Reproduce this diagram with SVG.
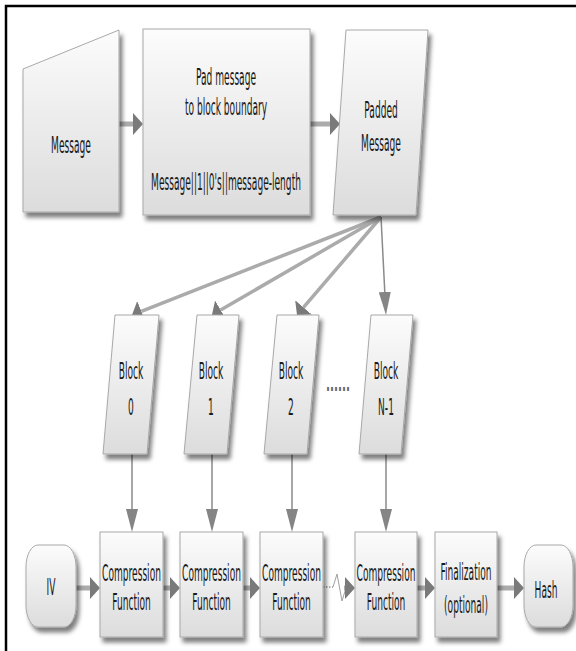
<svg xmlns="http://www.w3.org/2000/svg" width="576" height="651" viewBox="0 0 576 651">
<defs>
<linearGradient id="g" x1="0" y1="0" x2="0" y2="1">
<stop offset="0" stop-color="#fcfcfc"/>
<stop offset="1" stop-color="#dcdcdc"/>
</linearGradient>
<filter id="sh" x="-20%" y="-20%" width="150%" height="150%">
<feDropShadow dx="3" dy="5" stdDeviation="2.2" flood-color="#000" flood-opacity="0.5"/>
</filter>
<marker id="wide" markerUnits="userSpaceOnUse" viewBox="0 0 10 22" refX="0" refY="11" markerWidth="10" markerHeight="22" orient="auto">
<path d="M0,0 L10,11 L0,22 z" fill="#7a7a7a"/>
</marker>
<marker id="narrow" markerUnits="userSpaceOnUse" viewBox="0 0 23 12" refX="0" refY="6" markerWidth="23" markerHeight="12" orient="auto">
<path d="M0,0 L23,6 L0,12 z" fill="#858585"/>
</marker>
<style>
.n{fill:url(#g);stroke:#a8a8a8;stroke-width:1;filter:url(#sh)}
.t{font-family:"DejaVu Sans",Verdana,sans-serif;font-size:23px;fill:#1a1a1a;text-anchor:middle}
.thick{stroke:#ababab;stroke-width:5;fill:none;marker-end:url(#wide)}
.fan{stroke:#ababab;stroke-width:3.5;fill:none;marker-end:url(#wide)}
.thin{stroke:#8a8a8a;stroke-width:1.5;fill:none;marker-end:url(#narrow)}
</style>
</defs>
<rect width="576" height="651" fill="#fff"/>
<path d="M6,651 L6,6 L576,6" fill="none" stroke="#000" stroke-width="2.5"/>

<g id="connectors">
<line class="thick" x1="119" y1="124" x2="133" y2="124"/>
<line class="thick" x1="310" y1="124" x2="330" y2="124"/>
<line class="fan" x1="381" y1="217" x2="141.3" y2="311.3"/>
<line class="fan" x1="381" y1="217" x2="220.6" y2="310"/>
<line class="fan" x1="381" y1="217" x2="303.5" y2="307.4"/>
<line class="thin" x1="381" y1="217" x2="384.8" y2="292"/>
<line class="thin" x1="132" y1="454" x2="132" y2="509"/>
<line class="thin" x1="212" y1="454" x2="212" y2="509"/>
<line class="thin" x1="292" y1="454" x2="292" y2="509"/>
<line class="thin" x1="386" y1="454" x2="386" y2="509"/>
<line class="thick" x1="76" y1="588" x2="90" y2="588"/>
<line class="thick" x1="163" y1="588" x2="170" y2="588"/>
<line class="thick" x1="243" y1="588" x2="250" y2="588"/>
<line x1="323" y1="587" x2="333" y2="587" stroke="#b5b5b5" stroke-width="2" stroke-dasharray="1.5 1.5"/>
<polyline points="333,587 337,574 342,601 346,588" fill="none" stroke="#a0a0a0" stroke-width="1"/>
<line class="thick" x1="344" y1="588" x2="345" y2="588"/>
<line class="thick" x1="417" y1="588" x2="425" y2="588"/>
<line class="thick" x1="497" y1="588" x2="514" y2="588"/>
</g>

<g id="message">
<polygon class="n" points="23,69 119,30 119,212 23,212"/>
<text class="t" x="71" y="153.4" transform="matrix(0.395 0 0 1 42.955 0)">Message</text>
</g>
<g id="pad">
<rect class="n" x="143" y="29" width="167" height="186"/>
<text class="t" x="226" y="85.4" transform="matrix(0.395 0 0 1 136.73 0)">Pad message</text>
<text class="t" x="226" y="115.4" transform="matrix(0.395 0 0 1 136.73 0)">to block boundary</text>
<text class="t" x="226" y="190.4" transform="matrix(0.395 0 0 1 136.73 0)">Message||1||0's||message-length</text>
</g>
<g id="padded">
<polygon class="n" points="346,30 428,30 416,215 333,215"/>
<text class="t" x="381" y="118.4" transform="matrix(0.395 0 0 1 230.505 0)">Padded</text>
<text class="t" x="381" y="151.4" transform="matrix(0.395 0 0 1 230.505 0)">Message</text>
</g>
<g id="block0">
<polygon class="n" points="115,315 159,315 147,454 103,454"/>
<text class="t" x="131" y="379.4" transform="matrix(0.395 0 0 1 79.255 0)">Block</text>
<text class="t" x="131" y="415.4" transform="matrix(0.395 0 0 1 79.255 0)">0</text>
</g>
<g id="block1">
<polygon class="n" points="197,315 239,315 227,454 184,454"/>
<text class="t" x="211" y="379.4" transform="matrix(0.395 0 0 1 127.655 0)">Block</text>
<text class="t" x="211" y="415.4" transform="matrix(0.395 0 0 1 127.655 0)">1</text>
</g>
<g id="block2">
<polygon class="n" points="277,315 319,315 307,454 264,454"/>
<text class="t" x="291" y="379.4" transform="matrix(0.395 0 0 1 176.055 0)">Block</text>
<text class="t" x="291" y="415.4" transform="matrix(0.395 0 0 1 176.055 0)">2</text>
</g>
<g id="dots">
<text class="t" x="338" y="391" transform="matrix(0.5 0 0 1 169 0)" style="font-weight:bold;fill:#666;font-size:21px">......</text>
</g>
<g id="blockN">
<polygon class="n" points="371,315 413,315 401,454 359,454"/>
<text class="t" x="386" y="379.4" transform="matrix(0.395 0 0 1 233.53 0)">Block</text>
<text class="t" x="386" y="415.4" transform="matrix(0.395 0 0 1 233.53 0)">N-1</text>
</g>
<g id="iv">
<rect class="n" x="26" y="545" width="50" height="82" rx="12" ry="22"/>
<text class="t" x="51" y="595.4" transform="matrix(0.395 0 0 1 30.855 0)">IV</text>
</g>
<g id="comp1">
<rect class="n" x="100" y="532" width="63" height="105"/>
<text class="t" x="131.5" y="581.4" transform="matrix(0.395 0 0 1 79.5575 0)">Compression</text>
<text class="t" x="131.5" y="610.4" transform="matrix(0.395 0 0 1 79.5575 0)">Function</text>
</g>
<g id="comp2">
<rect class="n" x="180" y="532" width="63" height="105"/>
<text class="t" x="211.5" y="581.4" transform="matrix(0.395 0 0 1 127.9575 0)">Compression</text>
<text class="t" x="211.5" y="610.4" transform="matrix(0.395 0 0 1 127.9575 0)">Function</text>
</g>
<g id="comp3">
<rect class="n" x="260" y="532" width="63" height="105"/>
<text class="t" x="291.5" y="581.4" transform="matrix(0.395 0 0 1 176.3575 0)">Compression</text>
<text class="t" x="291.5" y="610.4" transform="matrix(0.395 0 0 1 176.3575 0)">Function</text>
</g>
<g id="comp4">
<rect class="n" x="355" y="532" width="62" height="105"/>
<text class="t" x="386" y="581.4" transform="matrix(0.395 0 0 1 233.53 0)">Compression</text>
<text class="t" x="386" y="610.4" transform="matrix(0.395 0 0 1 233.53 0)">Function</text>
</g>
<g id="final">
<rect class="n" x="435" y="532" width="62" height="105"/>
<text class="t" x="466" y="580.4" transform="matrix(0.395 0 0 1 281.93 0)">Finalization</text>
<text class="t" x="466" y="613.4" transform="matrix(0.395 0 0 1 281.93 0)">(optional)</text>
</g>
<g id="hash">
<rect class="n" x="524" y="545" width="49" height="82" rx="12" ry="22"/>
<text class="t" x="546" y="598.4" transform="matrix(0.395 0 0 1 330.33 0)">Hash</text>
</g>
</svg>
